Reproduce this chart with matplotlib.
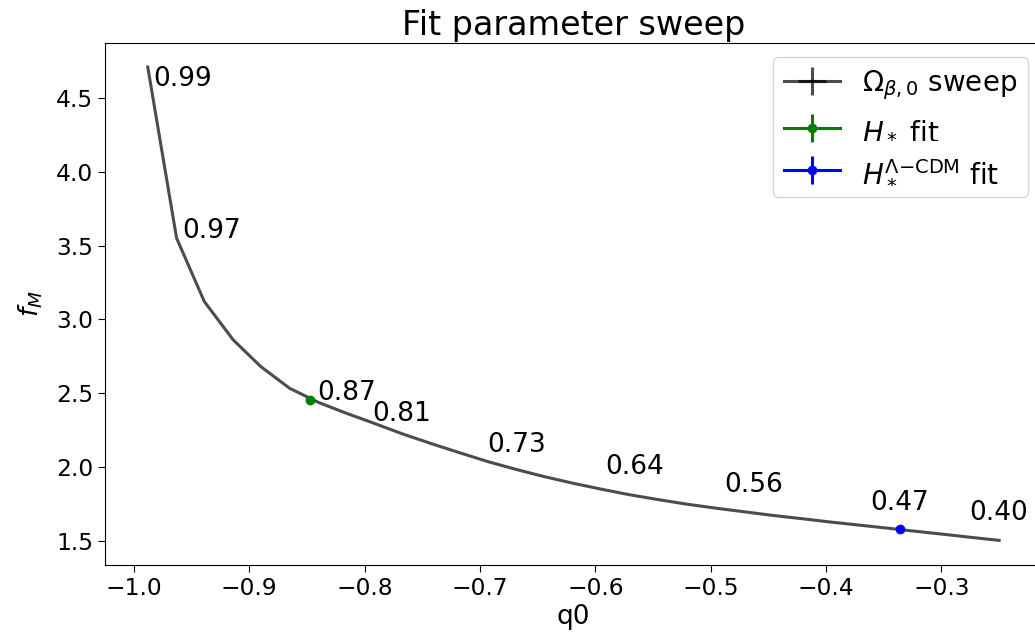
import matplotlib
matplotlib.use('Agg')
import matplotlib.pyplot as plt

# sweep curve (q0, f_M)
q0 = [-0.988, -0.963, -0.939, -0.914, -0.890, -0.865, -0.840, -0.816, -0.791, -0.767,
      -0.742, -0.717, -0.693, -0.668, -0.644, -0.619, -0.594, -0.570, -0.545, -0.521,
      -0.496, -0.471, -0.447, -0.422, -0.398, -0.373, -0.348, -0.324, -0.299, -0.275,
      -0.250]
fM = [4.713, 3.552, 3.122, 2.862, 2.680, 2.533, 2.437, 2.364, 2.293, 2.223,
      2.157, 2.094, 2.035, 1.981, 1.933, 1.888, 1.847, 1.810, 1.777, 1.747,
      1.720, 1.695, 1.671, 1.649, 1.627, 1.606, 1.585, 1.564, 1.543, 1.522,
      1.501]

# Omega_beta,0 labels and where they sit
om_labels = ['0.99', '0.97', '0.87', '0.81', '0.73', '0.64', '0.56', '0.47', '0.40']
om_x = [-0.9830, -0.9585, -0.8415, -0.7930, -0.6933, -0.5916, -0.4882, -0.3620, -0.2761]
om_y = [4.584, 3.552, 2.454, 2.311, 2.102, 1.948, 1.830, 1.706, 1.638]

# fit points
hstar_q0, hstar_f = -0.847, 2.454
hlcdm_q0, hlcdm_f = -0.3356, 1.577

fig = plt.figure(figsize=(10.35, 6.41), dpi=100)
ax = fig.add_axes([0.1014, 0.1186, 0.9054, 0.8139])

zeros = [0.0] * len(q0)
ax.errorbar(q0, fM, xerr=zeros, yerr=zeros, color='k', alpha=0.7, lw=2.2,
            label=r'$\Omega_{\beta,0}$ sweep')
ax.errorbar([hstar_q0], [hstar_f], xerr=[0.0], yerr=[0.0], color='g', marker='o',
            ms=6, lw=2.2, label=r'$H_*$ fit')
ax.errorbar([hlcdm_q0], [hlcdm_f], xerr=[0.0], yerr=[0.0], color='b', marker='o',
            ms=6, lw=2.2, label=r'$H_*^{\Lambda{-}\mathrm{CDM}}$ fit')

for lab, x, y in zip(om_labels, om_x, om_y):
    ax.text(x, y, lab, fontsize=19, ha='left', va='baseline')

ax.set_xlim(-1.0251, -0.2128)
ax.set_ylim(1.334, 4.874)
ax.tick_params(labelsize=16.8, length=5)
ax.set_xlabel('q0', fontsize=19, labelpad=3)
ax.set_ylabel('$f_M$', fontsize=19, labelpad=8)
ax.set_title('Fit parameter sweep', fontsize=24)
ax.legend(loc='upper right', fontsize=20)

fig.savefig('out.png', dpi=100)
